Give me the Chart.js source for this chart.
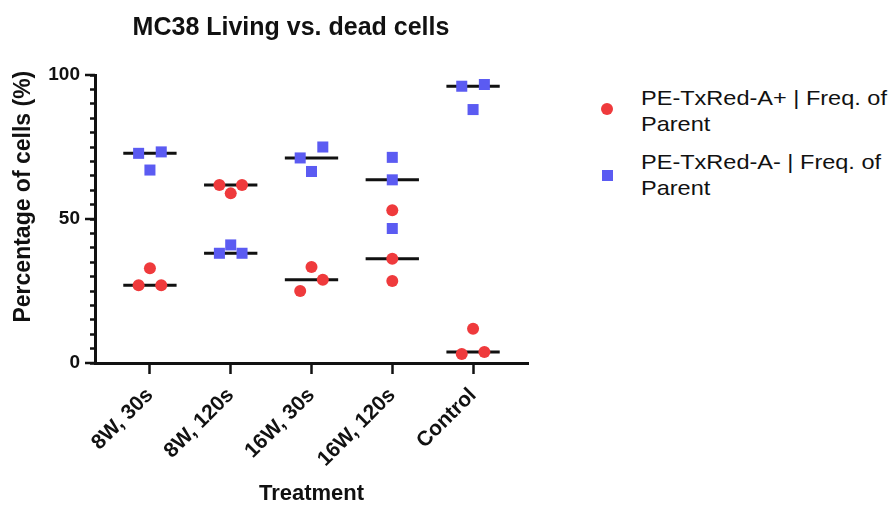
<!DOCTYPE html>
<html>
<head>
<meta charset="utf-8">
<title>MC38 Living vs. dead cells</title>
<script src="https://cdn.jsdelivr.net/npm/chart.js@4.4.0/dist/chart.umd.min.js"></script>
<style>
  body { margin: 0; background: #fff; }
  #wrap { position: relative; width: 893px; height: 507px; overflow: hidden; }
  #box { position: absolute; left: 0; top: 0; width: 582px; height: 507px; }
  .legend-text {
    position: absolute; left: 641px; width: 225px;
    font: 21px 'Liberation Sans', Arial, sans-serif; line-height: 26.5px; color: #111;
    transform: scaleX(1.12); transform-origin: left top;
  }
  .mark { position: absolute; }
</style>
</head>
<body>
<div id="wrap">
  <div id="box"><canvas id="chart"></canvas></div>
  <div id="legend"></div>
</div>
<script>
// data
const categories = ['8W, 30s', '8W, 120s', '16W, 30s', '16W, 120s', 'Control'];
const seriesNames = ['PE-TxRed-A+ | Freq. of Parent', 'PE-TxRed-A- | Freq. of Parent'];
const posValues = [
  [27.0, 32.9, 27.0],
  [61.8, 58.9, 61.8],
  [25.0, 33.3, 28.9],
  [53.0, 36.2, 28.5],
  [3.1, 11.9, 3.8]
];
const negValues = [
  [72.8, 67.0, 73.3],
  [38.1, 41.0, 38.1],
  [71.2, 66.5, 75.0],
  [71.4, 63.6, 46.7],
  [96.1, 88.0, 96.7]
];
const yTicks = [0, 50, 100];

const red = '#ef3a3c';
const blue = '#5b5bf2';
const ink = '#111';

// horizontal spread of the replicates (16W, 120s is stacked in one column)
const spread = [1, 1, 1, 0, 1];
const step = 0.14;
const halfBar = 0.33;

const toPoints = (groups) => {
  let pts = [];
  groups.forEach((vals, i) => {
    vals.forEach((v, j) => pts.push({ x: i + (j - 1) * step * spread[i], y: v }));
  });
  return pts;
};

const median = (vals) => {
  const s = [...vals].sort((a, b) => a - b);
  return s[Math.floor(s.length / 2)];
};

const medianLines = (groups) => {
  let pts = [];
  groups.forEach((vals, i) => {
    const m = median(vals);
    pts.push({ x: i - halfBar, y: m }, { x: i + halfBar, y: m }, { x: i + 0.5, y: null });
  });
  return pts;
};

Chart.defaults.font.family = "'Liberation Sans', Arial, sans-serif";
Chart.defaults.color = ink;

const majorTicks = {
  id: 'majorTicks',
  afterDraw(chart) {
    const y = chart.scales.y;
    const ctx = chart.ctx;
    ctx.save();
    ctx.strokeStyle = ink;
    ctx.lineWidth = 2.5;
    yTicks.forEach(v => {
      const py = y.getPixelForValue(v);
      ctx.beginPath();
      ctx.moveTo(y.right - 10, py);
      ctx.lineTo(y.right, py);
      ctx.stroke();
    });
    ctx.restore();
  }
};

new Chart(document.getElementById('chart'), {
  type: 'scatter',
  data: {
    datasets: [
      {
        label: seriesNames[0],
        data: toPoints(posValues),
        pointStyle: 'circle',
        pointRadius: 6,
        backgroundColor: red,
        borderWidth: 0
      },
      {
        label: seriesNames[1],
        data: toPoints(negValues),
        pointStyle: 'rect',
        pointRadius: 7.8,
        backgroundColor: blue,
        borderWidth: 0
      },
      {
        type: 'line',
        data: medianLines(posValues),
        borderColor: ink,
        borderWidth: 3,
        pointRadius: 0,
        spanGaps: false
      },
      {
        type: 'line',
        data: medianLines(negValues),
        borderColor: ink,
        borderWidth: 3,
        pointRadius: 0,
        spanGaps: false
      }
    ]
  },
  options: {
    responsive: true,
    maintainAspectRatio: false,
    animation: false,
    layout: { padding: 0 },
    plugins: {
      legend: { display: false },
      tooltip: { enabled: false },
      title: {
        display: true,
        text: 'MC38 Living vs. dead cells',
        color: ink,
        font: { size: 25, weight: 'bold' },
        padding: { top: 13, bottom: 32 }
      }
    },
    scales: {
      x: {
        type: 'linear',
        min: -0.68,
        max: 4.68,
        afterBuildTicks: (scale) => { scale.ticks = categories.map((c, i) => ({ value: i })); },
        afterFit: (scale) => { scale.height = 144; },
        ticks: {
          autoSkip: false,
          maxRotation: 45,
          minRotation: 45,
          padding: 9,
          color: ink,
          font: { size: 21, weight: 'bold' },
          callback: (v) => categories[v]
        },
        grid: { drawOnChartArea: false, tickLength: 11, tickWidth: 2.5, tickColor: ink },
        border: { color: ink, width: 3 },
        title: {
          display: true,
          text: 'Treatment',
          color: ink,
          font: { size: 22, weight: 'bold' },
          padding: { top: 0, bottom: 0 }
        }
      },
      y: {
        min: 0,
        max: 100,
        afterFit: (scale) => { scale.width = 95; },
        ticks: {
          stepSize: 5,
          autoSkip: false,
          padding: 10,
          color: ink,
          font: { size: 19, weight: 'bold' },
          callback: (v) => (yTicks.includes(v) ? v : '')
        },
        grid: { drawOnChartArea: false, tickLength: 5, tickWidth: 2.5, tickColor: ink },
        border: { color: ink, width: 3 },
        title: {
          display: true,
          text: '       Percentage of cells (%)',
          color: ink,
          font: { size: 23, weight: 'bold' },
          padding: { top: 10, bottom: 0 }
        }
      },
      // empty right-hand axis that keeps the plot clear of the legend column
      gap: {
        type: 'linear',
        position: 'right',
        grid: { display: false, drawTicks: false },
        ticks: { display: false },
        border: { display: false },
        afterFit: (scale) => { scale.width = 54; }
      }
    }
  },
  plugins: [majorTicks]
});

// legend on the right, as in the original figure
const legend = document.getElementById('legend');
const legendTops = [84.5, 148.8];
seriesNames.forEach((name, i) => {
  const mark = document.createElement('div');
  mark.className = 'mark';
  if (i === 0) {
    mark.style.cssText = `left:601px;top:${legendTops[i] + 18.5}px;width:12px;height:12px;border-radius:50%;background:${red}`;
  } else {
    mark.style.cssText = `left:602px;top:${legendTops[i] + 21.5}px;width:11px;height:11px;background:${blue}`;
  }
  legend.appendChild(mark);
  const txt = document.createElement('div');
  txt.className = 'legend-text';
  txt.style.top = legendTops[i] + 'px';
  txt.textContent = name;
  legend.appendChild(txt);
});
</script>
</body>
</html>
